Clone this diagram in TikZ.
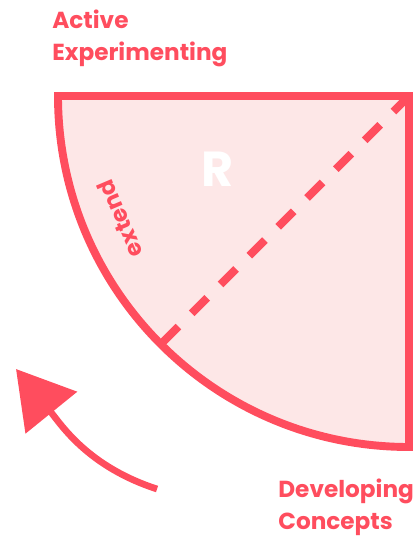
\documentclass[tikz,border=0pt]{standalone}
\usepackage{fontspec}
\setmainfont{Poppins}
\usepackage{xcolor}
\usetikzlibrary{calc,arrows.meta}

\definecolor{kolbRed}{HTML}{FF4D5E}
\definecolor{kolbPink}{HTML}{FDE7E7}

\begin{document}
\begin{tikzpicture}[
    x=0.02cm,
    y=0.02cm,
    quadrant/.style={draw=kolbRed, fill=kolbPink, line width=4.5pt, line join=miter},
    radiusline/.style={draw=kolbRed, line width=4.5pt, dash pattern=on 12.5pt off 10.7pt},
    cyclearrow/.style={draw=kolbRed, line width=3.8pt, -{Triangle[length=32pt,width=37pt]}},
    stage/.style={text=kolbRed, font=\bfseries\fontsize{13.2}{18}\selectfont, align=left, anchor=north west, inner sep=0pt},
    quadlabel/.style={text=white, font=\bfseries\fontsize{28}{30}\selectfont, inner sep=0pt},
    edgelabel/.style={text=kolbRed, font=\bfseries\fontsize{13}{15}\selectfont, inner sep=0pt}
]
\useasboundingbox (0,0) rectangle (415,-538);

% Centre of the quadrant (top right), radius 351
\coordinate (c) at (409,-96);
\path (c) ++(180:351) coordinate (w);
\path (c) ++(225:351) coordinate (m);

% Quadrant
\draw[quadrant] (c) -- (w) arc[start angle=180, end angle=270, radius=351] -- cycle;

% Dashed radius
\draw[radiusline] (c) -- (m);

% Labels inside
\node[quadlabel] (r) at (218,-169) {R};
\node[edgelabel, rotate=113] (ext) at ($(c)+(203:314)$) {extend};

% Stage names
\node[stage] (ae) at (52,-10) {Active\\Experimenting};
\node[stage] (dc) at (278,-479) {Developing\\Concepts};

% Cycle arrow
\coordinate (tail) at (157,-489);
\coordinate (tip) at (16,-369);
\draw[cyclearrow] (tail) to[out=162, in=-51] (tip);

\end{tikzpicture}
\end{document}
